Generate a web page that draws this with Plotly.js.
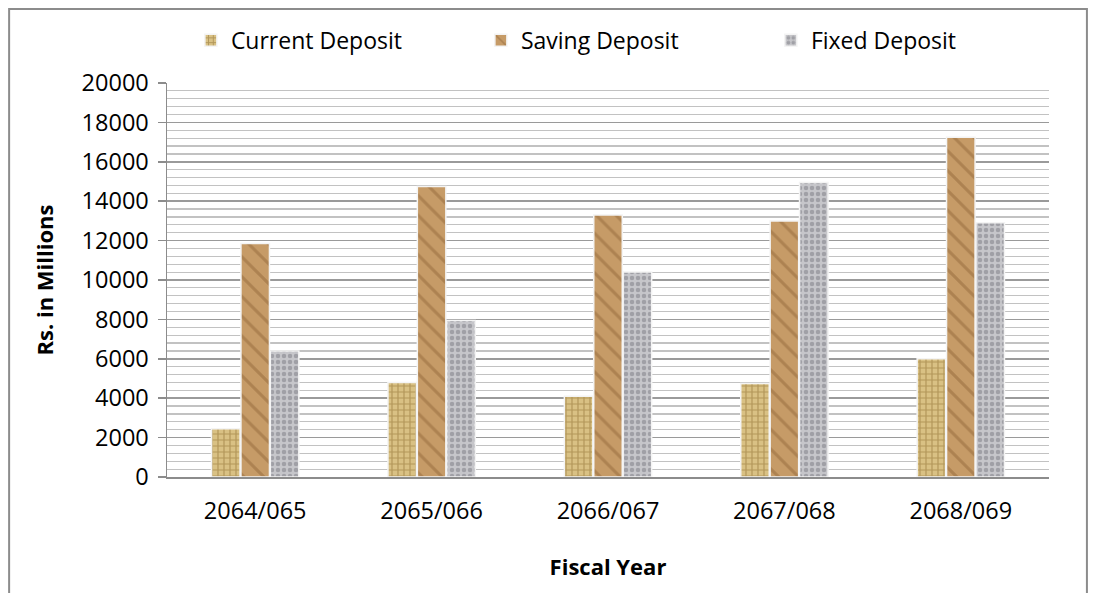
<!DOCTYPE html>
<html>
<head>
<meta charset="utf-8">
<script src="https://cdn.plot.ly/plotly-3.0.1.min.js"></script>
<style>
  html, body { margin: 0; padding: 0; background: #ffffff; }
  #chart { width: 1097px; height: 593px; }
</style>
</head>
<body>
<div id="chart"></div>
<script>
const fiscalYears = ["2064/065", "2065/066", "2066/067", "2067/068", "2068/069"];
const currentDeposit = [2450, 4800, 4100, 4750, 6000];
const savingDeposit = [11850, 14750, 13300, 13000, 17250];
const fixedDeposit = [6400, 7950, 10400, 14950, 12900];
const seriesNames = ["Current Deposit", "Saving Deposit", "Fixed Deposit"];
const yTickVals = [0, 2000, 4000, 6000, 8000, 10000, 12000, 14000, 16000, 18000, 20000];

const FONT = "Open Sans, Noto Sans, sans-serif";

function barTrace(name, values, bg, fg, shape, size, solidity) {
  return {
    type: "bar",
    name: name,
    x: fiscalYears,
    y: values,
    marker: {
      color: bg,
      line: { color: "#f4f4f4", width: 1.5 },
      pattern: { shape: shape, fgcolor: fg, bgcolor: bg, size: size, solidity: solidity, fillmode: "overlay" }
    },
    hoverinfo: "x+y+name"
  };
}

const data = [
  barTrace(seriesNames[0], currentDeposit, "#d9c184", "#8a6a2c", "+", 6, 0.35),
  barTrace(seriesNames[1], savingDeposit, "#c69b67", "#936a3c", "\\", 14, 0.22),
  barTrace(seriesNames[2], fixedDeposit, "#c6c6ca", "#7a7a82", ".", 6, 0.45)
];

const layout = {
  width: 1097,
  height: 593,
  margin: { l: 167, r: 48, t: 83, b: 116, pad: 0, autoexpand: false },
  paper_bgcolor: "#ffffff",
  plot_bgcolor: "#ffffff",
  font: { family: FONT, size: 23, color: "#000000" },
  barmode: "group",
  bargap: 0.5,
  bargroupgap: 0.03,
  showlegend: true,
  legend: {
    orientation: "h",
    xref: "container", yref: "container",
    x: 0.174, xanchor: "left",
    y: 0.932, yanchor: "middle",
    font: { family: FONT, size: 23, color: "#000000" },
    entrywidth: 245,
    itemwidth: 30,
    traceorder: "normal",
    bgcolor: "rgba(0,0,0,0)"
  },
  xaxis: {
    type: "category",
    showgrid: false,
    showline: true,
    linecolor: "#8c8c8c",
    linewidth: 2,
    ticks: "",
    tickfont: { family: FONT, size: 23.5, color: "#000000" },
    ticklabelstandoff: 12,
    title: { text: "Fiscal Year", font: { family: FONT, size: 22, color: "#000000", weight: "bold" }, standoff: 34 },
    fixedrange: true
  },
  yaxis: {
    range: [0, 20000],
    tickvals: yTickVals,
    ticktext: yTickVals.map(String),
    showgrid: true,
    gridcolor: "#9a9a9a",
    gridwidth: 1.5,
    minor: { dtick: 400, showgrid: true, gridcolor: "#c2c2c2", gridwidth: 1.2, ticks: "" },
    showline: true,
    linecolor: "#8c8c8c",
    linewidth: 1.5,
    ticks: "outside",
    ticklen: 8,
    tickcolor: "#8c8c8c",
    tickwidth: 1.5,
    tickfont: { family: FONT, size: 23.5, color: "#000000" },
    ticklabelstandoff: 4,
    zeroline: false,
    title: { text: "Rs. in Millions", font: { family: FONT, size: 22, color: "#000000", weight: "bold" }, standoff: 22 },
    fixedrange: true
  },
  shapes: [
    {
      type: "rect", xref: "paper", yref: "paper",
      x0: -0.179, x1: 1.043, y0: -0.33, y1: 1.188,
      line: { color: "#8c8c8c", width: 2 },
      fillcolor: "rgba(0,0,0,0)",
      layer: "below"
    }
  ]
};

Plotly.newPlot("chart", data, layout, { displayModeBar: false, staticPlot: true });
</script>
</body>
</html>
